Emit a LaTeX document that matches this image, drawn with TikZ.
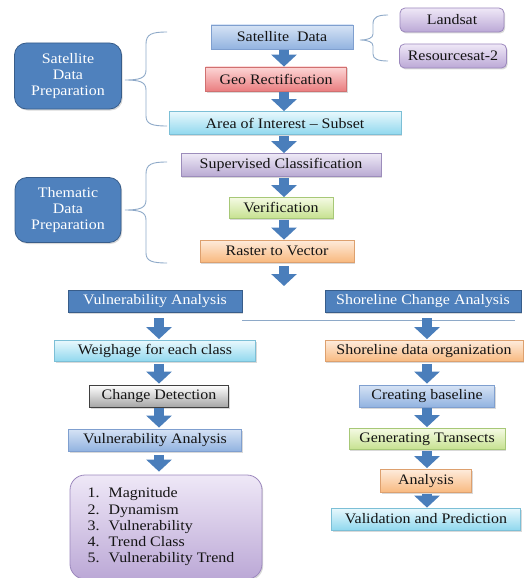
\documentclass[tikz,border=0pt]{standalone}
\usepackage{fontspec}
\setmainfont{Liberation Serif}[FakeStretch=1.1]
\usetikzlibrary{arrows.meta,shadows}
\definecolor{arrowblue}{HTML}{4A7EBB}
\definecolor{darkfill}{HTML}{4F81BD}
\definecolor{darkline}{HTML}{385D8A}
\definecolor{bracecol}{HTML}{8EA9C8}
\definecolor{txt}{HTML}{141414}
\definecolor{blueT}{HTML}{D6E3F5}\definecolor{blueB}{HTML}{92B3E0}\definecolor{blueL}{HTML}{7F9FCF}
\definecolor{purT}{HTML}{EFE8F7}\definecolor{purB}{HTML}{BBA8D6}\definecolor{purL}{HTML}{9C88BD}
\definecolor{redT}{HTML}{FCD6D6}\definecolor{redB}{HTML}{EA7E80}\definecolor{redL}{HTML}{D07070}
\definecolor{cyaT}{HTML}{E8F8FD}\definecolor{cyaB}{HTML}{90D8EE}\definecolor{cyaL}{HTML}{7CBFD6}
\definecolor{lavT}{HTML}{EEE9F6}\definecolor{lavB}{HTML}{B8A9D2}\definecolor{lavL}{HTML}{9C8DBB}
\definecolor{grnT}{HTML}{F4FAE3}\definecolor{grnB}{HTML}{C6E18F}\definecolor{grnL}{HTML}{A7C877}
\definecolor{orgT}{HTML}{FEEBDB}\definecolor{orgB}{HTML}{F8B97F}\definecolor{orgL}{HTML}{DDA06E}
\definecolor{gryT}{HTML}{FFFFFF}\definecolor{gryB}{HTML}{A6A6A6}\definecolor{gryL}{HTML}{404040}
\tikzset{
  box/.style={rectangle, line width=0.8pt, text=txt, inner sep=0pt,
    font=\fontsize{14.5}{16.2}\selectfont,
    drop shadow={shadow xshift=1.2pt, shadow yshift=-1.5pt, opacity=0.3}},
  bluebox/.style={box, top color=blueT, bottom color=blueB, draw=blueL},
  purbox/.style={box, top color=purT, bottom color=purB, draw=purL, rounded corners=5pt},
  redbox/.style={box, top color=redT, bottom color=redB, draw=redL},
  cyabox/.style={box, top color=cyaT, bottom color=cyaB, draw=cyaL},
  lavbox/.style={box, top color=lavT, bottom color=lavB, draw=lavL},
  grnbox/.style={box, top color=grnT, bottom color=grnB, draw=grnL},
  orgbox/.style={box, top color=orgT, bottom color=orgB, draw=orgL},
  grybox/.style={box, top color=gryT, bottom color=gryB, draw=gryL},
  headbox/.style={box, fill=darkfill, draw=darkline, text=white},
  sidebox/.style={box, fill=darkfill, draw=darkline, text=white, rounded corners=12pt, align=center},
  blockarrow/.style={draw=arrowblue, line width=10pt, -{Triangle[width=25pt,length=12pt]}},
  bracel/.style={draw=bracecol, line width=0.9pt},
}
\begin{document}
\begin{tikzpicture}[x=1pt,y=-1pt]
\useasboundingbox (0,0) rectangle (532,578);
% columns
\coordinate (colM) at (284,0);
\coordinate (colL) at (159,0);
\coordinate (colR) at (427,0);
% top part
\node[bluebox, minimum width=142, minimum height=24] (sat) at (282,37) {Satellite\ \ Data};
\node[purbox, minimum width=104, minimum height=24] (land) at (452,20) {Landsat};
\node[purbox, minimum width=107, minimum height=24] (res) at (453,56) {Resourcesat-2};
\node[redbox, minimum width=141, minimum height=24] (geo) at (276,79) {Geo Rectification};
\node[cyabox, minimum width=232, minimum height=23] (aoi) at (285,123) {Area of Interest -- Subset};
\node[sidebox, minimum width=107, minimum height=66] (sdp) at (68,76) {Satellite\\Data\\Preparation};
\node[lavbox, minimum width=200, minimum height=23] (sup) at (281,165) {Supervised Classification};
\node[grnbox, minimum width=104, minimum height=21] (ver) at (281,208) {Verification};
\node[orgbox, minimum width=154, minimum height=22] (ras) at (277,251) {Raster to Vector};
\node[sidebox, minimum width=106, minimum height=65] (tdp) at (68,210) {Thematic\\Data\\Preparation};
\coordinate (split) at (284,286);
% branches
\node[headbox, minimum width=174, minimum height=22] (vhead) at (155,301) {Vulnerability Analysis};
\node[headbox, minimum width=196, minimum height=22] (shead) at (423,301) {Shoreline Change Analysis};
\node[cyabox, minimum width=201, minimum height=21] (weigh) at (155,351) {Weighage for each class};
\node[orgbox, minimum width=198, minimum height=21] (sorg) at (424,351) {Shoreline data organization};
\node[grybox, minimum width=139, minimum height=22] (cd) at (159,396) {Change Detection};
\node[bluebox, minimum width=135, minimum height=22] (base) at (427,396) {Creating baseline};
\node[bluebox, minimum width=173, minimum height=22] (vul) at (155,440) {Vulnerability Analysis};
\node[grnbox, minimum width=156, minimum height=21] (gen) at (427,439) {Generating Transects};
\node[orgbox, minimum width=91, minimum height=23] (ana) at (426,481) {Analysis};
\node[cyabox, minimum width=189, minimum height=22] (val) at (426,519) {Validation and Prediction};
\node[box, top color=purT, bottom color=purB, draw=purL, rounded corners=15pt,
      minimum width=192, minimum height=104, align=left] (list) at (166,527)
  {\raisebox{-3pt}{\begin{tabular}{@{}l@{\hspace{9pt}}l@{}}
   1. & Magnitude\\ 2. & Dynamism\\ 3. & Vulnerability\\ 4. & Trend Class\\ 5. & Vulnerability Trend
   \end{tabular}}\hspace{10pt}};
% braces
\draw[bracel] (167,32) .. controls (152,32) and (146,34) .. (146,44) -- (146,70)
  .. controls (146,78) and (140,80) .. (125,80) .. controls (140,80) and (146,82) .. (146,90)
  -- (146,116) .. controls (146,124) and (152,126) .. (167,126);
\draw[bracel] (167,162) .. controls (152,162) and (146,164) .. (146,174) -- (146,200)
  .. controls (146,208) and (140,210) .. (125,210) .. controls (140,210) and (146,212) .. (146,220)
  -- (146,253) .. controls (146,261) and (152,263) .. (167,263);
\draw[bracel] (388,15) .. controls (378,15) and (373,17) .. (373,24) -- (373,34)
  .. controls (373,38) and (368,40) .. (360,40) .. controls (368,40) and (373,42) .. (373,46)
  -- (373,54) .. controls (373,59) and (378,61) .. (388,61);
% horizontal line
\draw[bracecol, line width=0.8pt] (vhead.south east |- 0,320) -- (515,320);
% block arrows
\draw[blockarrow, shorten <=1pt] (sat.south -| colM) -- (geo.north -| colM);
\draw[blockarrow, shorten <=1pt] (geo.south -| colM) -- (aoi.north -| colM);
\draw[blockarrow, shorten <=1pt] (aoi.south -| colM) -- (sup.north -| colM);
\draw[blockarrow, shorten <=1pt] (sup.south -| colM) -- (ver.north -| colM);
\draw[blockarrow, shorten <=1pt] (ver.south -| colM) -- (ras.north -| colM);
\draw[blockarrow, shorten <=4pt] (ras.south -| colM) -- (split);
\draw[blockarrow, shorten <=6pt, shorten >=1pt] (vhead.south -| colL) -- (weigh.north -| colL);
\draw[blockarrow, shorten <=2pt, shorten >=1pt] (weigh.south -| colL) -- (cd.north -| colL);
\draw[blockarrow, shorten <=1pt, shorten >=1pt] (cd.south -| colL) -- (vul.north -| colL);
\draw[blockarrow, shorten <=4pt, shorten >=3pt] (vul.south -| colL) -- (list.north -| colL);
\draw[blockarrow, shorten <=6pt, shorten >=1pt] (shead.south -| colR) -- (sorg.north -| colR);
\draw[blockarrow, shorten <=2pt, shorten >=1pt] (sorg.south -| colR) -- (base.north -| colR);
\draw[blockarrow, shorten <=1pt, shorten >=1pt] (base.south -| colR) -- (gen.north -| colR);
\draw[blockarrow, shorten <=1pt, shorten >=1pt] (gen.south -| colR) -- (ana.north -| colR);
\draw[blockarrow, shorten <=1pt] (ana.south -| colR) -- (val.north -| colR);
\end{tikzpicture}
\end{document}
